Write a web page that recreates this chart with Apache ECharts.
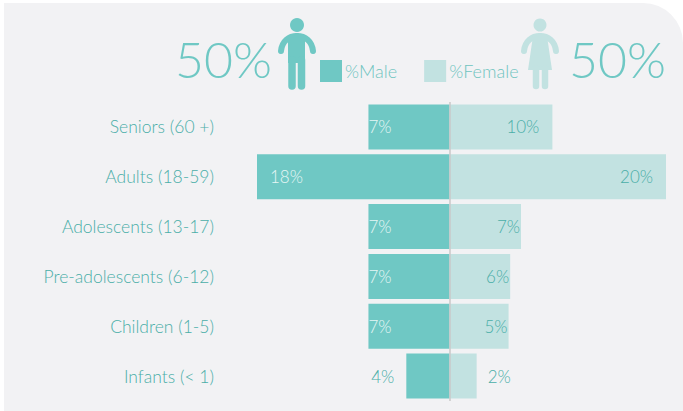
<!DOCTYPE html>
<html>
<head>
<meta charset="utf-8">
<style>
  html, body { margin: 0; padding: 0; background: #fff; }
  #chart { width: 683px; height: 411px; }
</style>
<script src="https://cdn.jsdelivr.net/npm/echarts@6/dist/echarts.min.js"></script>
</head>
<body>
<div id="chart"></div>
<script>
const categories = ['Seniors (60 +)', 'Adults (18-59)', 'Adolescents (13-17)', 'Pre-adolescents (6-12)', 'Children (1-5)', 'Infants (< 1)'];
// bar lengths as drawn in the picture, they do not quite follow the printed labels
const maleLengths = [7.5, 17.8, 7.5, 7.5, 7.5, 4];
const femaleLengths = [9.5, 20, 6.6, 5.6, 5.45, 2.5];
const maleLabels = ['7%', '18%', '7%', '7%', '7%', '4%'];
const femaleLabels = ['10%', '20%', '7%', '6%', '5%', '2%'];
const totals = ['50%', '50%'];

const MALE = '#6fc8c4';
const FEMALE = '#c2e2e1';
const TEXT = '#4aaea8';
const FONT = 'Lato';

const chart = echarts.init(document.getElementById('chart'), null, { renderer: 'svg' });

const maleData = maleLengths.map((v, i) => ({
  value: -v,
  label: i === 5
    ? { position: 'left', distance: 12, color: TEXT }
    : { position: 'insideLeft', distance: i === 1 ? 13 : 0, color: '#e6f6f5' },
}));
const femaleData = femaleLengths.map((v, i) => ({
  value: v,
  label: i === 5
    ? { position: 'right', distance: 11 }
    : { position: 'insideRight', distance: [13, 13, 1, 1, 1][i] },
}));

// one shoulder-to-hand arch made of two curves
const arms = (cx, color) => [
  { type: 'bezierCurve', shape: { x1: cx - 16, y1: 51, cpx1: cx - 15, cpy1: 41, cpx2: cx - 8, cpy2: 36, x2: cx, y2: 36 }, style: { fill: 'none', stroke: color, lineWidth: 6, lineCap: 'round' } },
  { type: 'bezierCurve', shape: { x1: cx + 16, y1: 51, cpx1: cx + 15, cpy1: 41, cpx2: cx + 8, cpy2: 36, x2: cx, y2: 36 }, style: { fill: 'none', stroke: color, lineWidth: 6, lineCap: 'round' } },
];

chart.setOption({
  animation: false,
  textStyle: { fontFamily: FONT },
  graphic: [
    // panel behind everything
    { type: 'rect', z: -10, shape: { x: 4, y: 3, width: 679, height: 408, r: [0, 40, 0, 0] }, style: { fill: '#f2f2f4' } },
    { type: 'text', x: 175, y: 33.5, style: { text: totals[0], font: '300 50px Lato', fill: MALE } },
    { type: 'text', x: 569, y: 33.5, style: { text: totals[1], font: '300 50px Lato', fill: MALE } },
    // man
    { type: 'circle', shape: { cx: 297, cy: 25, r: 7 }, style: { fill: MALE } },
    ...arms(297, MALE),
    { type: 'rect', shape: { x: 288, y: 36, width: 17, height: 27 }, style: { fill: MALE } },
    { type: 'line', shape: { x1: 292, y1: 60, x2: 292, y2: 86 }, style: { stroke: MALE, lineWidth: 7.5, lineCap: 'round' } },
    { type: 'line', shape: { x1: 301.5, y1: 60, x2: 301.5, y2: 86 }, style: { stroke: MALE, lineWidth: 7.5, lineCap: 'round' } },
    // woman
    { type: 'circle', shape: { cx: 540, cy: 25, r: 6.5 }, style: { fill: FEMALE } },
    ...arms(540, FEMALE),
    { type: 'polygon', shape: { points: [[533, 36], [547, 36], [552, 70], [528, 70]] }, style: { fill: FEMALE } },
    { type: 'line', shape: { x1: 536, y1: 68, x2: 536, y2: 86 }, style: { stroke: FEMALE, lineWidth: 6.5, lineCap: 'round' } },
    { type: 'line', shape: { x1: 545, y1: 68, x2: 545, y2: 86 }, style: { stroke: FEMALE, lineWidth: 6.5, lineCap: 'round' } },
  ],
  legend: {
    left: 320,
    top: 60,
    padding: 0,
    itemWidth: 22,
    itemHeight: 22,
    itemGap: 27,
    icon: 'rect',
    selectedMode: false,
    textStyle: { fontSize: 18, fontWeight: 300, fontFamily: FONT, color: '#6fc4bf', padding: [0, 0, 0, -2] },
    data: ['%Male', '%Female'],
  },
  grid: { left: 257, right: 17, top: 102, bottom: 10 },
  xAxis: { type: 'value', min: -17.8, max: 20, show: false },
  yAxis: {
    type: 'category',
    inverse: true,
    data: categories,
    axisLine: { show: false },
    axisTick: { show: false },
    axisLabel: { margin: 43, fontSize: 17.5, fontWeight: 300, fontFamily: FONT, color: TEXT },
  },
  series: [
    {
      name: '%Male',
      type: 'bar',
      stack: 'all',
      barWidth: 45,
      itemStyle: { color: MALE },
      label: { show: true, fontSize: 17, fontWeight: 300, fontFamily: FONT, formatter: p => maleLabels[p.dataIndex] },
      data: maleData,
      markLine: {
        silent: true,
        symbol: 'none',
        label: { show: false },
        lineStyle: { color: '#c9c9c9', type: 'solid', width: 1.5 },
        data: [{ xAxis: 0 }],
      },
    },
    {
      name: '%Female',
      type: 'bar',
      stack: 'all',
      barWidth: 45,
      itemStyle: { color: FEMALE },
      label: { show: true, fontSize: 17, fontWeight: 300, fontFamily: FONT, color: TEXT, formatter: p => femaleLabels[p.dataIndex] },
      data: femaleData,
    },
  ],
});
</script>
</body>
</html>
